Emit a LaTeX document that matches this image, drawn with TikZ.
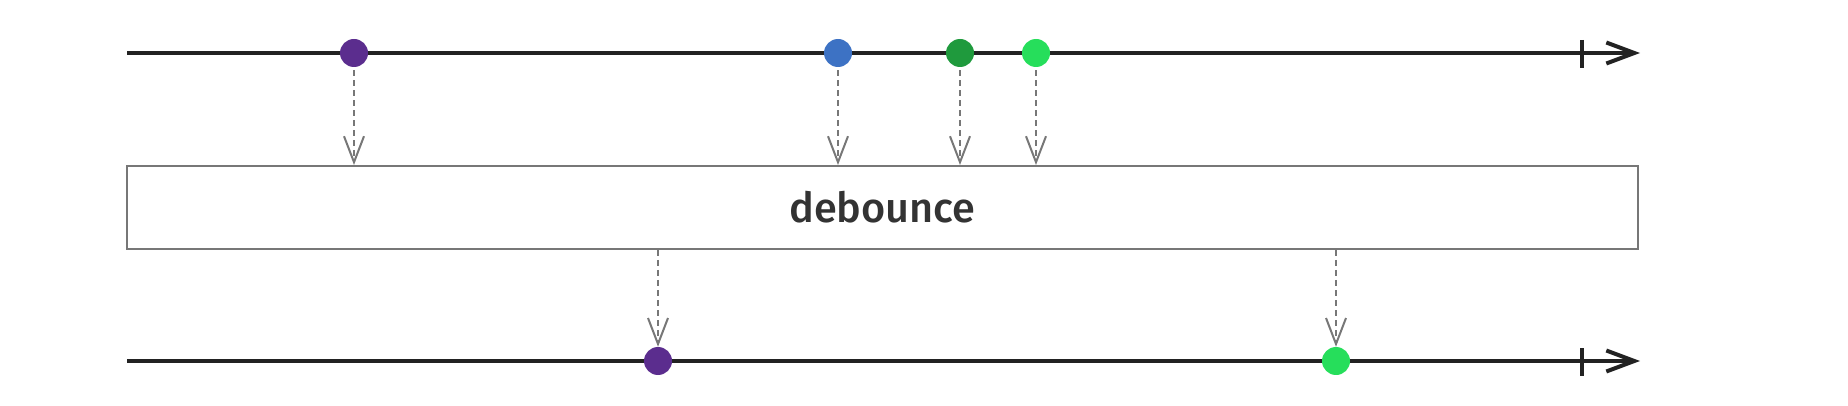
\documentclass[tikz,border=0pt]{standalone}
\usepackage{fontspec}
\setmainfont{Fira Sans}
\newfontfamily\opfont{Fira Sans Medium}
\usetikzlibrary{arrows.meta}
\definecolor{lineblack}{HTML}{222222}
\definecolor{framegray}{HTML}{777777}
\definecolor{txtgray}{HTML}{333333}
\definecolor{purp}{HTML}{5B2D8E}
\definecolor{blu}{HTML}{3D72C4}
\definecolor{dgreen}{HTML}{1F9A3D}
\definecolor{lgreen}{HTML}{26DE5B}
\tikzset{
  timeline/.style={line width=4pt, lineblack, -{Straight Barb[length=28pt,width=21pt,line width=4pt]}},
  marble/.style={circle, inner sep=0pt, minimum size=28pt, fill=#1},
  emit/.style={line width=2pt, framegray, dash pattern=on 6pt off 4pt, -{Straight Barb[length=26pt,width=20pt,line width=2pt]}},
  opbox/.style={draw=framegray, line width=2pt, minimum width=1511pt, minimum height=83pt, inner sep=0pt}
}
\begin{document}
\begin{tikzpicture}[x=1pt, y=-1pt]
    \useasboundingbox (0,0) rectangle (1848,406);

    % Input timeline
    \coordinate (inL) at (127,53);
    \coordinate (inR) at (1640,53);
    \draw[timeline] (inL) -- (inR);
    \draw[line width=4pt, lineblack] (1582,40) -- (1582,68);
    \node[marble=purp]   (a1) at (354,53) {};
    \node[marble=blu]    (a2) at (838,53) {};
    \node[marble=dgreen] (a3) at (960,53) {};
    \node[marble=lgreen] (a4) at (1036,53) {};

    % Operator box
    \node[opbox] (op) at (882.5,207.5) {\opfont\fontsize{41.5}{48}\selectfont\color{txtgray}debounce};

    % Output timeline
    \coordinate (outL) at (127,361);
    \coordinate (outR) at (1640,361);
    \draw[timeline] (outL) -- (outR);
    \draw[line width=4pt, lineblack] (1582,348) -- (1582,376);
    \node[marble=purp]   (b1) at (658,361) {};
    \node[marble=lgreen] (b2) at (1336,361) {};

    % Arrows into the operator
    \foreach \m in {a1,a2,a3,a4}
        \draw[emit] ([yshift=-3pt]\m.south) -- (\m |- op.north);

    % Arrows out of the operator
    \foreach \m in {b1,b2}
        \draw[emit] (\m |- op.south) -- (\m.north);
\end{tikzpicture}
\end{document}
